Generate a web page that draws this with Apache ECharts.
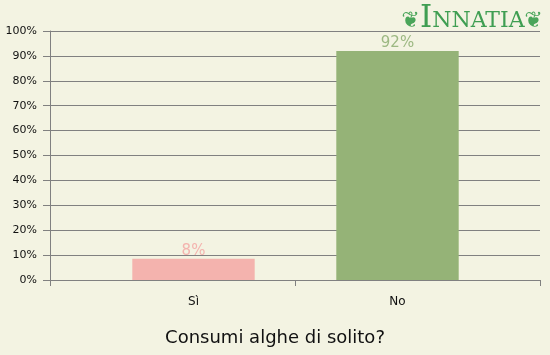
<!DOCTYPE html>
<html><head><meta charset="utf-8">
<script src="https://cdn.jsdelivr.net/npm/echarts@6/dist/echarts.min.js"></script>
<style>html,body{margin:0;padding:0;background:#f3f3e2;}#c{width:550px;height:355px;}</style>
</head><body><div id="c"></div>
<script>
const categories = ["Sì", "No"];
const values = [8.5, 92];
const valueLabels = ["8%", "92%"];
const barColors = ["#f4b3ae", "#95b377"];
const labelColors = ["#f4b3ae", "#9cb882"];
const yTicks = [0,10,20,30,40,50,60,70,80,90,100];
const title = "Consumi alghe di solito?";

const chart = echarts.init(document.getElementById('c'), null, {renderer:'canvas'});
chart.setOption({
  backgroundColor: '#f3f3e2',
  animation: false,
  grid: [
    {left: 50, right: 10, top: 31, bottom: 75},
    {left: 91.5, right: 50.5, top: 31, bottom: 75}
  ],
  title: {
    text: title, left: 'center', bottom: 3,
    textStyle: {fontFamily: 'DejaVu Sans', fontSize: 18, fontWeight: 'normal', color: '#111'}
  },
  xAxis: [{
    gridIndex: 0, type: 'category', data: categories,
    axisLine: {lineStyle: {color: '#808080', width: 1}},
    axisTick: {show: true, length: 6, lineStyle: {color: '#808080'}},
    axisLabel: {show: false}
  }, {
    gridIndex: 1, type: 'category', data: categories,
    axisLine: {show: false}, axisTick: {show: false},
    axisLabel: {fontFamily: 'DejaVu Sans', fontSize: 12, color: '#111', margin: 16}
  }],
  yAxis: [{
    gridIndex: 0, type: 'value', min: 0, max: 100, interval: 10,
    axisLine: {show: true, lineStyle: {color: '#808080'}},
    axisTick: {show: true, length: 7, lineStyle: {color: '#808080'}},
    splitLine: {lineStyle: {color: '#808080', width: 1}},
    axisLabel: {fontFamily: 'DejaVu Sans', fontSize: 11, color: '#111', margin: 13,
      formatter: v => yTicks.includes(v) ? v + '%' : ''}
  }, {
    gridIndex: 1, type: 'value', min: 0, max: 100, interval: 10, show: false
  }],
  series: [{
    type: 'bar', xAxisIndex: 1, yAxisIndex: 1, barWidth: '60%', z: 3,
    data: values.map((v, i) => ({value: v, itemStyle: {color: barColors[i]},
      label: {color: labelColors[i]}})),
    label: {show: true, position: 'top', distance: 0,
      fontFamily: 'DejaVu Sans', fontSize: 15,
      formatter: p => valueLabels[p.dataIndex]}
  }],
  graphic: [{
    type: 'text', right: 7, top: 3,
    style: {
      text: '{o|❦}{a|I}{b|NNATIA}{o|❦}',
      rich: {
        o: {fontSize: 22, fill: '#4aa55a', fontFamily: 'DejaVu Sans', padding:[6,0,0,0]},
        a: {fontSize: 31, fill: '#3f9e52', fontFamily: 'DejaVu Serif'},
        b: {fontSize: 22, fill: '#3f9e52', fontFamily: 'DejaVu Serif', padding:[6,0,0,0]}
      }
    }
  }]
});
</script></body></html>
